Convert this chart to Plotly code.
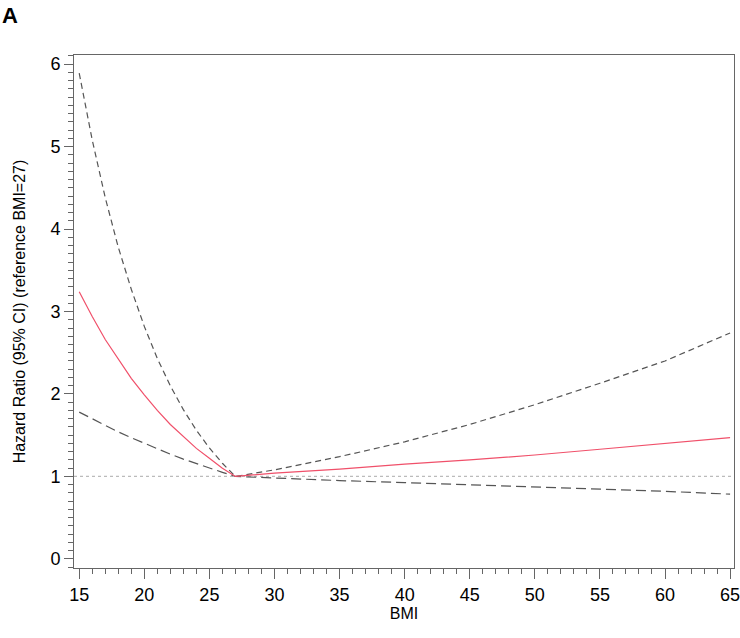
import plotly.graph_objects as go

# BMI grid and hazard ratio estimates (reference BMI = 27)
bmi = [15, 16, 17, 18, 19, 20, 21, 22, 23, 24, 25, 26, 27,
       30, 35, 40, 45, 50, 55, 60, 65]
hr = [3.24, 2.94, 2.66, 2.42, 2.19, 1.99, 1.80, 1.63, 1.48, 1.34, 1.22, 1.10, 1.0,
      1.04, 1.09, 1.15, 1.20, 1.26, 1.33, 1.40, 1.47]
ci_upper = [5.89, 5.08, 4.38, 3.78, 3.27, 2.82, 2.43, 2.10, 1.81, 1.56, 1.345, 1.16, 1.0,
            1.08, 1.24, 1.42, 1.63, 1.87, 2.13, 2.40, 2.74]
ci_lower = [1.78, 1.70, 1.62, 1.54, 1.47, 1.40, 1.33, 1.27, 1.21, 1.155, 1.10, 1.05, 1.0,
            0.98, 0.95, 0.925, 0.90, 0.875, 0.85, 0.82, 0.785]

x_ticks = [15, 20, 25, 30, 35, 40, 45, 50, 55, 60, 65]
y_ticks = [0, 1, 2, 3, 4, 5, 6]

font = "Liberation Sans, Arial, sans-serif"
dash_col = "#555555"

fig = go.Figure()

fig.add_trace(go.Scatter(x=bmi, y=ci_upper, mode="lines", line=dict(color=dash_col, width=1.2, dash="6px,4px"), showlegend=False))
fig.add_trace(go.Scatter(x=bmi, y=ci_lower, mode="lines", line=dict(color=dash_col, width=1.2, dash="10px,5px"), showlegend=False))
fig.add_trace(go.Scatter(x=bmi, y=hr, mode="lines", line=dict(color="#f0506a", width=1.2), showlegend=False))

# reference line at HR = 1
fig.add_shape(type="line", xref="paper", x0=0, x1=1, yref="y", y0=1, y1=1,
              line=dict(color="#bbbbbb", width=1.2, dash="dot"), layer="below")

fig.update_layout(
    width=740, height=638,
    margin=dict(l=74, r=6, t=55, b=70),
    plot_bgcolor="white", paper_bgcolor="white",
    font=dict(family=font, color="black"),
    annotations=[dict(text="<b>A</b>", x=0, y=1, xref="paper", yref="paper",
                      xshift=-74, yshift=54, xanchor="left", yanchor="top",
                      showarrow=False, font=dict(size=22, family=font))]
)

fig.update_xaxes(
    range=[14.6, 65.3], tickvals=x_ticks, ticks="outside", ticklen=10, tickcolor="#666",
    minor=dict(dtick=1, ticks="outside", ticklen=5, tickcolor="#666", showgrid=False),
    showline=True, linecolor="#666", linewidth=1, mirror=True, showgrid=False, zeroline=False,
    automargin=False, ticklabeloverflow="allow",
    tickfont=dict(size=18), title=dict(text="BMI", font=dict(size=16), standoff=3)
)
fig.update_yaxes(
    range=[-0.11, 6.11], tickvals=y_ticks, ticks="outside", ticklen=9, tickcolor="#666",
    minor=dict(dtick=0.1, ticks="outside", ticklen=5, tickcolor="#666", showgrid=False),
    showline=True, linecolor="#666", linewidth=1, mirror=True, showgrid=False, zeroline=False,
    automargin=False,
    tickfont=dict(size=18), title=dict(text="Hazard Ratio (95% CI) (reference BMI=27)", font=dict(size=16), standoff=20)
)

# drop the default page margin so the figure sits at the window's top-left corner
fig.write_html("out.html", config={"displayModeBar": False},
               post_script="document.body.style.margin='0';")
